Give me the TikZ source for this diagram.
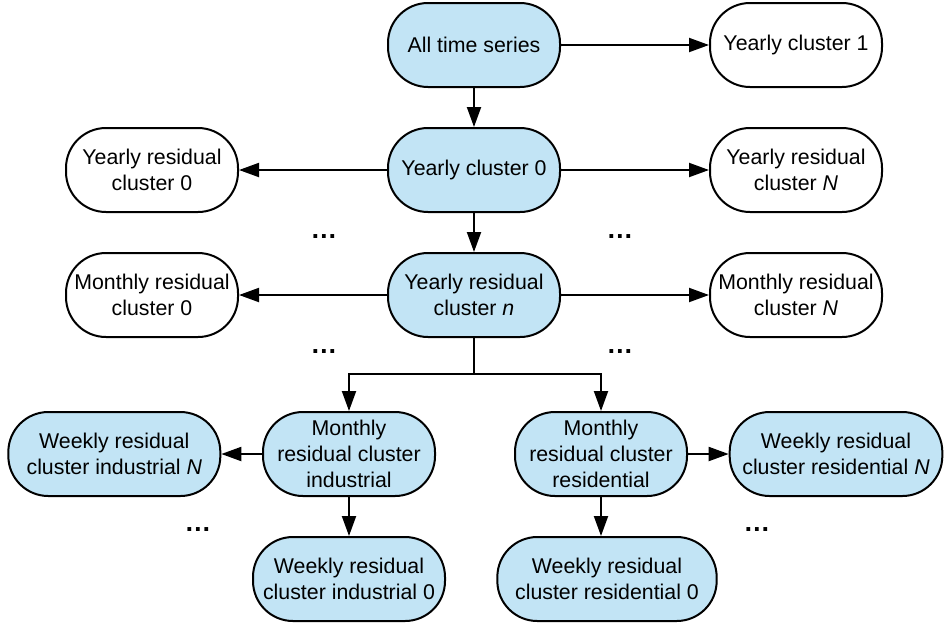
\documentclass[tikz,border=0pt]{standalone}
\usepackage{fontspec}
\setmainfont{Liberation Sans}
\usepackage{xcolor}
\usetikzlibrary{arrows.meta,positioning}
\definecolor{clusterblue}{RGB}{194,228,245}

\begin{document}
\begin{tikzpicture}[
  x=0.75pt, y=-0.75pt,
  node distance=29.25pt and 111pt,
  box/.style={rectangle, rounded corners=30pt, draw, line width=1.5pt, align=center, minimum width=129pt, minimum height=63pt, inner sep=2pt, font=\fontsize{16}{19.5}\selectfont},
  filled/.style={box, fill=clusterblue},
  dots/.style={inner sep=0pt, font=\fontsize{20}{24}\selectfont\bfseries},
  arrow/.style={-{Triangle[length=15pt,width=10.5pt]}, line width=1.5pt}
]
\useasboundingbox (0,0) rectangle (945,622);

\node[filled] (all) at (474,45) {All time series};
\node[box, right=of all] (ycl1) {Yearly cluster 1};
\node[filled, below=of all] (ycl0) {Yearly cluster 0};
\node[box, left=of ycl0] (yres0) {Yearly residual\\cluster 0};
\node[box, right=of ycl0] (yresN) {Yearly residual\\cluster \textit{N}};
\node[filled, below=of ycl0] (yresn) {Yearly residual\\cluster \textit{n}};
\node[box, left=of yresn] (mres0) {Monthly residual\\cluster 0};
\node[box, right=of yresn] (mresN) {Monthly residual\\cluster \textit{N}};

\node[filled, below=54.75pt of yresn, xshift=-93.75pt] (mind) {Monthly\\residual cluster\\industrial};
\node[filled, below=54.75pt of yresn, xshift=95.25pt] (mres) {Monthly\\residual cluster\\residential};
\node[filled, minimum width=159pt, left=30.5pt of mind] (windN) {Weekly residual\\cluster industrial \textit{N}};
\node[filled, minimum width=144pt, below=of mind] (wind0) {Weekly residual\\cluster industrial 0};
\node[filled, minimum width=159.5pt, right=30.5pt of mres] (wresN) {Weekly residual\\cluster residential \textit{N}};
\node[filled, minimum width=164.5pt, below=of mres, xshift=4.5pt] (wres0) {Weekly residual\\cluster residential 0};

% dots for the clusters left out
\node[dots] (dot1) at (324,237) {…};
\node[dots] (dot2) at (620,237) {…};
\node[dots] (dot3) at (324,352) {…};
\node[dots] (dot4) at (620,352) {…};
\node[dots] (dot5) at (198,530) {…};
\node[dots] (dot6) at (757,530) {…};

\draw[arrow] (all) -- (ycl1);
\draw[arrow] (all) -- (ycl0);
\draw[arrow] (ycl0) -- (yres0);
\draw[arrow] (ycl0) -- (yresN);
\draw[arrow] (ycl0) -- (yresn);
\draw[arrow] (yresn) -- (mres0);
\draw[arrow] (yresn) -- (mresN);

\coordinate[below=27pt of yresn.south] (split);
\draw[line width=1.5pt] (yresn) -- (split);
\draw[arrow] (split) -| (mind);
\draw[arrow] (split) -| (mres);

\draw[arrow] (mind) -- (windN);
\draw[arrow] (mind) -- (wind0);
\draw[arrow] (mres) -- (wresN);
\draw[arrow] (mres) -- (mres |- wres0.north);

\end{tikzpicture}
\end{document}
